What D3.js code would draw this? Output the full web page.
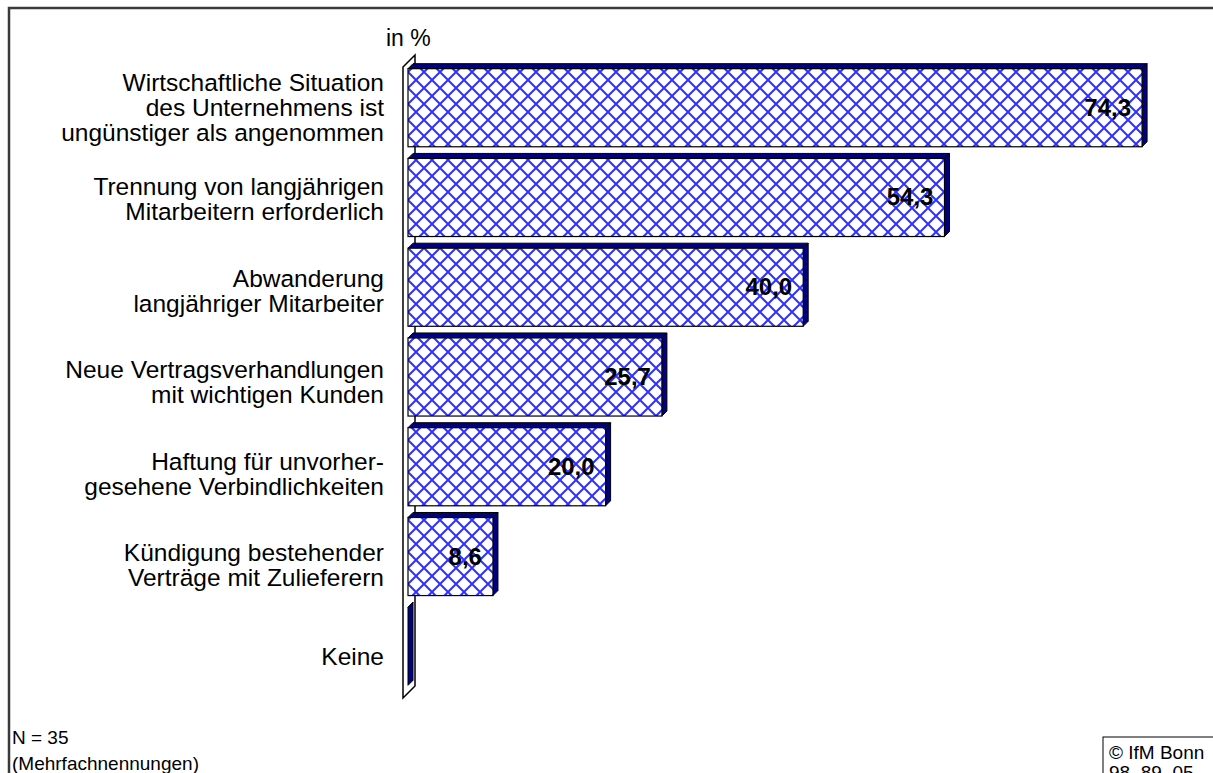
<!DOCTYPE html>
<html>
<head>
<meta charset="utf-8">
<script src="https://cdn.jsdelivr.net/npm/d3@7"></script>
<style>
  body { margin: 0; background: #fff; }
  svg { display: block; font-family: "Liberation Sans", Arial, sans-serif; }
</style>
</head>
<body>
<svg id="chart" width="1213" height="773"></svg>
<script>
// chart data
const categories = [
  ["Wirtschaftliche Situation", "des Unternehmens ist", "ungünstiger als angenommen"],
  ["Trennung von langjährigen", "Mitarbeitern erforderlich"],
  ["Abwanderung", "langjähriger Mitarbeiter"],
  ["Neue Vertragsverhandlungen", "mit wichtigen Kunden"],
  ["Haftung für unvorher-", "gesehene Verbindlichkeiten"],
  ["Kündigung bestehender", "Verträge mit Zulieferern"],
  ["Keine"]
];
const values = [74.3, 54.3, 40.0, 25.7, 20.0, 8.6, 0];
const valueLabels = ["74,3", "54,3", "40,0", "25,7", "20,0", "8,6", ""];
const axisTitle = "in %";
const noteLines = ["N = 35", "(Mehrfachnennungen)"];
const sourceLines = ["© IfM Bonn", "98  89  05"];

const svg = d3.select("#chart");
const keys = categories.map((c, i) => i);

const x = d3.scaleLinear().domain([0, 100]).range([408, 1396]);
const y = d3.scaleBand().domain(keys).range([57, 697]).padding(0.13);
const yLabel = d3.scalePoint().domain(keys).range([108, 657]);

const depth = 5;

// outer frame
svg.append("rect")
  .attr("x", 9).attr("y", 8)
  .attr("width", 1300).attr("height", 900)
  .attr("fill", "none")
  .attr("stroke", "#3a3a3a")
  .attr("stroke-width", 2.5);

// crosshatch pattern
const defs = svg.append("defs");
const pat = defs.append("pattern")
  .attr("id", "hatch")
  .attr("patternUnits", "userSpaceOnUse")
  .attr("width", 16).attr("height", 16);
pat.append("rect").attr("width", 16).attr("height", 16).attr("fill", "#fff");
pat.append("path")
  .attr("d", "M0,0 L16,16 M16,0 L0,16")
  .attr("stroke", "#3030ff")
  .attr("stroke-width", 2);

// side wall (3d)
const wx = x(0) - 5, wTop = y.range()[0] + 10, wBot = y.range()[1] + 1, wd = 12;
svg.append("path")
  .attr("d", `M${wx},${wTop} L${wx + wd},${wTop - wd} L${wx + wd},${wBot - wd} L${wx},${wBot} Z`)
  .attr("fill", "#fff")
  .attr("stroke", "#000")
  .attr("stroke-width", 1.5);

// bars
const bars = svg.append("g").selectAll("g")
  .data(values)
  .join("g");

bars.append("path") // top face
  .attr("d", (d, i) => {
    const x0 = x(0), x1 = x(d), t = y(i);
    return `M${x0},${t} L${x0 + depth},${t - depth} L${x1 + depth},${t - depth} L${x1},${t} Z`;
  })
  .attr("fill", "#000080")
  .attr("stroke", "#000")
  .attr("stroke-width", 1);

bars.append("path") // side face
  .attr("d", (d, i) => {
    const x1 = x(d), t = y(i), b = y(i) + y.bandwidth();
    return `M${x1},${t} L${x1 + depth},${t - depth} L${x1 + depth},${b - depth} L${x1},${b} Z`;
  })
  .attr("fill", "#000080")
  .attr("stroke", "#000")
  .attr("stroke-width", 1);

bars.append("rect") // front face
  .attr("x", x(0))
  .attr("y", (d, i) => y(i))
  .attr("width", d => x(d) - x(0))
  .attr("height", y.bandwidth())
  .attr("fill", "url(#hatch)")
  .attr("stroke", "#000")
  .attr("stroke-width", 1.2);

// value labels
bars.append("text")
  .attr("x", d => x(d) - 11)
  .attr("y", (d, i) => y(i) + y.bandwidth() / 2 + 8)
  .attr("text-anchor", "end")
  .attr("font-size", 24)
  .attr("font-weight", "bold")
  .attr("fill", "#000")
  .text((d, i) => valueLabels[i]);

// category labels
const catText = svg.append("g").selectAll("text")
  .data(categories)
  .join("text")
  .attr("text-anchor", "end")
  .attr("font-size", 24.5)
  .attr("fill", "#000");
catText.each(function (lines, i) {
  const cy = yLabel(i) - (lines.length - 1) * 12.5 + 8;
  d3.select(this).selectAll("tspan")
    .data(lines)
    .join("tspan")
    .attr("x", 384)
    .attr("y", (l, j) => cy + j * 25)
    .text(l => l);
});

// axis title
svg.append("text")
  .attr("x", 386).attr("y", 46)
  .attr("font-size", 23)
  .text(axisTitle);

// note bottom left
svg.append("g").selectAll("text")
  .data(noteLines)
  .join("text")
  .attr("x", 12)
  .attr("y", (d, i) => 744 + i * 26)
  .attr("font-size", 19)
  .text(d => d);

// source box
svg.append("rect")
  .attr("x", 1103).attr("y", 737)
  .attr("width", 140).attr("height", 60)
  .attr("fill", "#fff")
  .attr("stroke", "#000")
  .attr("stroke-width", 1);
svg.append("g").selectAll("text")
  .data(sourceLines)
  .join("text")
  .attr("x", 1109)
  .attr("y", (d, i) => 759 + i * 20)
  .attr("font-size", 19)
  .style("white-space", "pre")
  .text(d => d);
</script>
</body>
</html>
